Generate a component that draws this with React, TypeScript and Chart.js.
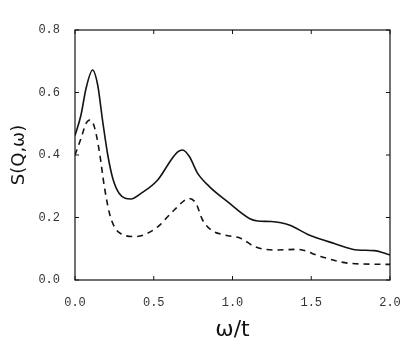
import React, { useEffect, useRef } from "react";
import { Chart, registerables } from "chart.js";

Chart.register(...registerables);

const solidX = [0.0, 0.038, 0.07, 0.112, 0.144, 0.176, 0.208, 0.24, 0.281, 0.356, 0.419, 0.525, 0.61, 0.652, 0.684, 0.726, 0.779, 0.853, 0.97, 1.107, 1.16, 1.245, 1.36, 1.486, 1.646, 1.795, 1.9, 2.0];
const solidY = [0.462, 0.528, 0.613, 0.672, 0.624, 0.507, 0.4, 0.325, 0.277, 0.259, 0.277, 0.32, 0.384, 0.41, 0.416, 0.395, 0.341, 0.299, 0.25, 0.197, 0.189, 0.187, 0.176, 0.144, 0.117, 0.096, 0.094, 0.08];

const dashX = [0.0, 0.038, 0.07, 0.095, 0.123, 0.155, 0.186, 0.218, 0.25, 0.292, 0.38, 0.44, 0.525, 0.63, 0.726, 0.768, 0.81, 0.864, 0.948, 1.054, 1.14, 1.265, 1.414, 1.56, 1.75, 2.0];
const dashY = [0.4, 0.453, 0.501, 0.512, 0.49, 0.41, 0.3, 0.215, 0.17, 0.148, 0.139, 0.145, 0.17, 0.224, 0.261, 0.245, 0.192, 0.16, 0.144, 0.133, 0.107, 0.096, 0.098, 0.075, 0.053, 0.05];

const xTicks = [0, 0.5, 1.0, 1.5, 2.0];
const yTicks = [0, 0.2, 0.4, 0.6, 0.8];

const INK = "#141414";

const framePlugin = {
  id: "frame",
  afterDraw(chart: any) {
    const { ctx, chartArea: a, scales } = chart;
    ctx.save();
    ctx.strokeStyle = INK;
    ctx.lineWidth = 1.2;
    ctx.strokeRect(a.left, a.top, a.right - a.left, a.bottom - a.top);
    ctx.lineWidth = 1;
    const L = 4;
    xTicks.forEach((v) => {
      const px = scales.x.getPixelForValue(v);
      ctx.beginPath();
      ctx.moveTo(px, a.bottom);
      ctx.lineTo(px, a.bottom - L);
      ctx.moveTo(px, a.top);
      ctx.lineTo(px, a.top + L);
      ctx.stroke();
    });
    yTicks.forEach((v) => {
      const py = scales.y.getPixelForValue(v);
      ctx.beginPath();
      ctx.moveTo(a.left, py);
      ctx.lineTo(a.left + L, py);
      ctx.moveTo(a.right, py);
      ctx.lineTo(a.right - L, py);
      ctx.stroke();
    });
    ctx.restore();
  },
};

export default function App() {
  const ref = useRef<HTMLCanvasElement | null>(null);
  useEffect(() => {
    document.body.style.margin = "0";
    const chart = new Chart(ref.current!, {
      type: "line",
      data: {
        datasets: [
          {
            data: solidX.map((x, i) => ({ x, y: solidY[i] })),
            borderColor: INK,
            borderWidth: 1.6,
            pointRadius: 0,
            cubicInterpolationMode: "monotone",
            fill: false,
          },
          {
            data: dashX.map((x, i) => ({ x, y: dashY[i] })),
            borderColor: INK,
            borderWidth: 1.6,
            borderDash: [6, 5],
            pointRadius: 0,
            cubicInterpolationMode: "monotone",
            fill: false,
          },
        ],
      },
      options: {
        animation: false,
        responsive: true,
        maintainAspectRatio: false,
        layout: { padding: { left: 0, right: 25, top: 30, bottom: 0 } },
        plugins: { legend: { display: false }, tooltip: { enabled: false } },
        scales: {
          x: {
            type: "linear",
            min: 0,
            max: 2,
            grid: { display: false },
            border: { display: false },
            afterFit: (s: any) => {
              s.height = 77;
            },
            afterBuildTicks: (s: any) => {
              s.ticks = xTicks.map((v) => ({ value: v }));
            },
            ticks: {
              padding: 8,
              color: "#333",
              font: { family: "Liberation Mono", size: 12 },
              callback: (v: any) => Number(v).toFixed(1),
              maxRotation: 0,
            },
            title: {
              display: true,
              text: "ω/t",
              color: INK,
              font: { family: "DejaVu Sans", size: 22 },
              padding: { bottom: 14, top: 0 },
            },
          },
          y: {
            type: "linear",
            min: 0,
            max: 0.8,
            grid: { display: false },
            border: { display: false },
            afterFit: (s: any) => {
              s.width = 75;
            },
            afterBuildTicks: (s: any) => {
              s.ticks = yTicks.map((v) => ({ value: v }));
            },
            ticks: {
              padding: 7,
              color: "#333",
              font: { family: "Liberation Mono", size: 12 },
              callback: (v: any) => Number(v).toFixed(1),
            },
            title: {
              display: true,
              text: "S(Q,ω)",
              color: INK,
              font: { family: "DejaVu Sans", size: 18 },
              padding: { top: 9, bottom: 0 },
            },
          },
        },
      },
      plugins: [framePlugin],
    } as any);
    return () => chart.destroy();
  }, []);
  return (
    <div style={{ width: 415, height: 357, position: "relative" }}>
      <canvas ref={ref} />
    </div>
  );
}
